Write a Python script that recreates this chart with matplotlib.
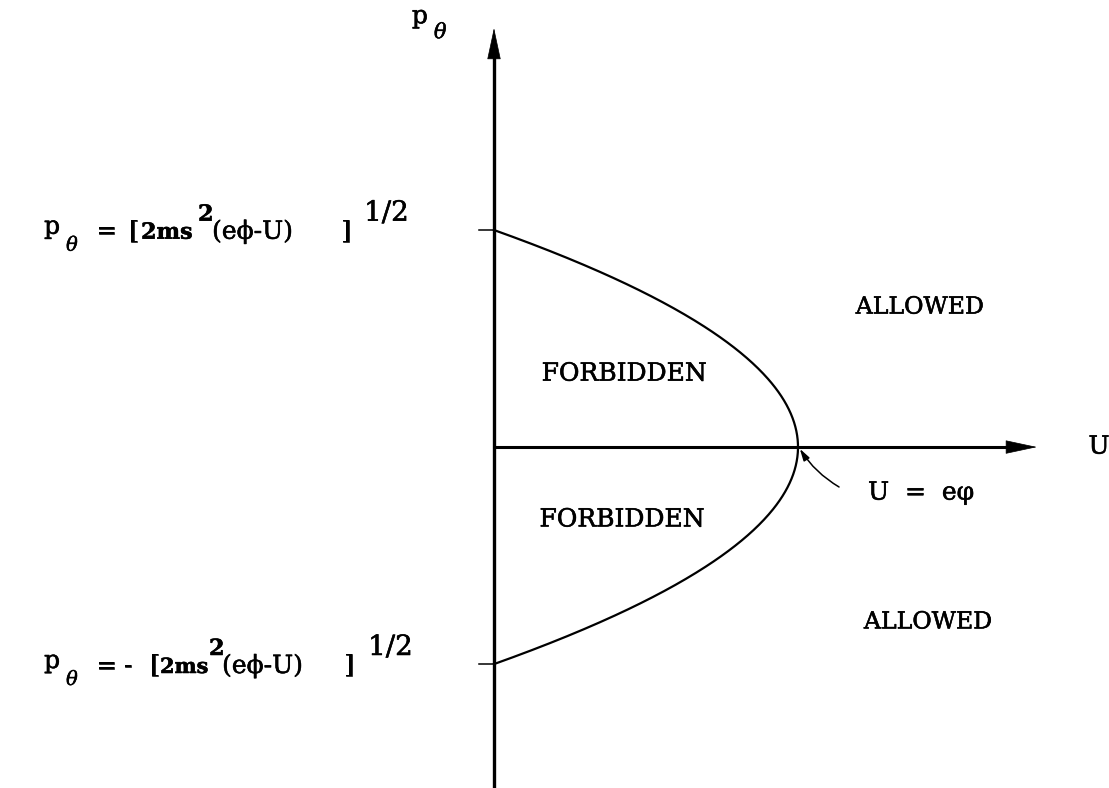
import numpy as np
import matplotlib
matplotlib.use("Agg")
import matplotlib.pyplot as plt
from matplotlib.patches import FancyArrowPatch
from matplotlib.transforms import offset_copy
import matplotlib.patheffects as pe

FAM = ['DejaVu Serif', 'DejaVu Sans']
plt.rcParams['font.family'] = FAM

# ---- data (normalised) ----
e_phi = 1.0          # U at the vertex, U = e*phi
p_max = 1.0          # p_theta at U = 0
p_ticks = [p_max, -p_max]
region_labels = ['FORBIDDEN', 'FORBIDDEN', 'ALLOWED', 'ALLOWED']
region_U = [0.428, 0.421, 1.401, 1.428]
region_p = [0.336, -0.336, 0.645, -0.806]

# boundary curve p^2 = 2 m s^2 (e phi - U)  (normalised)
p_curve = np.linspace(-p_max, p_max, 500)
U_curve = e_phi * (1 - (p_curve / p_max) ** 2)

fig = plt.figure(figsize=(11.09, 7.88), dpi=100)
ax = fig.add_axes([0, 0, 1, 1])
ax.set_xlim(-1.625, 2.023)
ax.set_ylim(-1.571, 2.060)
ax.axis('off')

stroke = [pe.withStroke(linewidth=0.4, foreground='black')]


def compose(x, y, pieces):
    """pieces: (dx_px, dy_px, text, size, weight, style)"""
    for dx, dy, s, size, weight, style in pieces:
        tr = offset_copy(ax.transData, fig=fig, x=dx, y=dy, units='dots')
        ax.text(x, y, s, transform=tr, fontsize=size, fontweight=weight,
                fontstyle=style, ha='left', va='baseline', family=FAM,
                path_effects=stroke)


# axes with arrows
ax.plot([0, 0], [-1.571, 1.85], color='black', lw=2.4, solid_capstyle='butt')
ax.plot([0, 1.72], [0, 0], color='black', lw=2.2, solid_capstyle='butt')
ax.add_patch(FancyArrowPatch((0, 1.75), (0, 1.931), arrowstyle='-|>,head_length=21,head_width=4.5',
                             mutation_scale=1, color='black', lw=0.5, shrinkA=0, shrinkB=0))
ax.add_patch(FancyArrowPatch((1.65, 0), (1.786, 0), arrowstyle='-|>,head_length=21,head_width=4.5',
                             mutation_scale=1, color='black', lw=0.5, shrinkA=0, shrinkB=0))

# boundary curve
ax.plot(U_curve, p_curve, color='black', lw=1.6)

# ticks
for p in p_ticks:
    ax.plot([-0.05, 0], [p, p], color='black', lw=1.1)

# tick labels, composed like the typewritten original
top_pieces = [
    (0, 5, 'p', 18, 'normal', 'normal'),
    (22, -12, 'θ', 14, 'normal', 'italic'),
    (52, 0, '=', 18, 'normal', 'normal'),
    (85, 0, '[', 18, 'normal', 'normal'),
    (97, 0, '2ms', 16, 'bold', 'normal'),
    (154, 18, '2', 16, 'bold', 'normal'),
    (168, 0, '(eϕ-U)', 18, 'normal', 'normal'),
    (297, 0, ']', 18, 'normal', 'normal'),
    (320, 18, '1/2', 20, 'normal', 'normal'),
]
bot_pieces = [
    (0, 5, 'p', 18, 'normal', 'normal'),
    (22, -12, 'θ', 14, 'normal', 'italic'),
    (52, 0, '=', 18, 'normal', 'normal'),
    (80, 0, '-', 18, 'normal', 'normal'),
    (106, 0, '[', 18, 'normal', 'normal'),
    (116, 0, '2ms', 15, 'bold', 'normal'),
    (165, 18, '2', 16, 'bold', 'normal'),
    (178, 0, '(eϕ-U)', 18, 'normal', 'normal'),
    (300, 0, ']', 18, 'normal', 'normal'),
    (324, 18, '1/2', 20, 'normal', 'normal'),
]
compose(-1.48, p_ticks[0] - 0.04, top_pieces)
compose(-1.48, p_ticks[1] - 0.041, bot_pieces)

# axis labels
ax.text(1.99, 0, 'U', fontsize=18, ha='center', va='center', path_effects=stroke)
compose(-0.27, 1.93, [(0, 5, 'p', 18, 'normal', 'normal'),
                      (22, -10, 'θ', 15, 'normal', 'italic')])

# region labels
for u, p, lab in zip(region_U, region_p, region_labels):
    size = 18 if lab == 'FORBIDDEN' else 17
    ax.text(u, p, lab, fontsize=size, ha='center', va='center', path_effects=stroke)

# annotation of the vertex
ax.add_patch(FancyArrowPatch((1.135, -0.184), (e_phi + 0.006, -0.008),
                             connectionstyle='arc3,rad=-0.12',
                             arrowstyle='-|>,head_length=7,head_width=2', mutation_scale=1,
                             color='black', lw=1.1, shrinkA=0, shrinkB=0))
ax.text(1.405, -0.212, 'U  =  eφ', fontsize=18, ha='center', va='center', path_effects=stroke)

fig.savefig('out.png', dpi=100, facecolor='white')
